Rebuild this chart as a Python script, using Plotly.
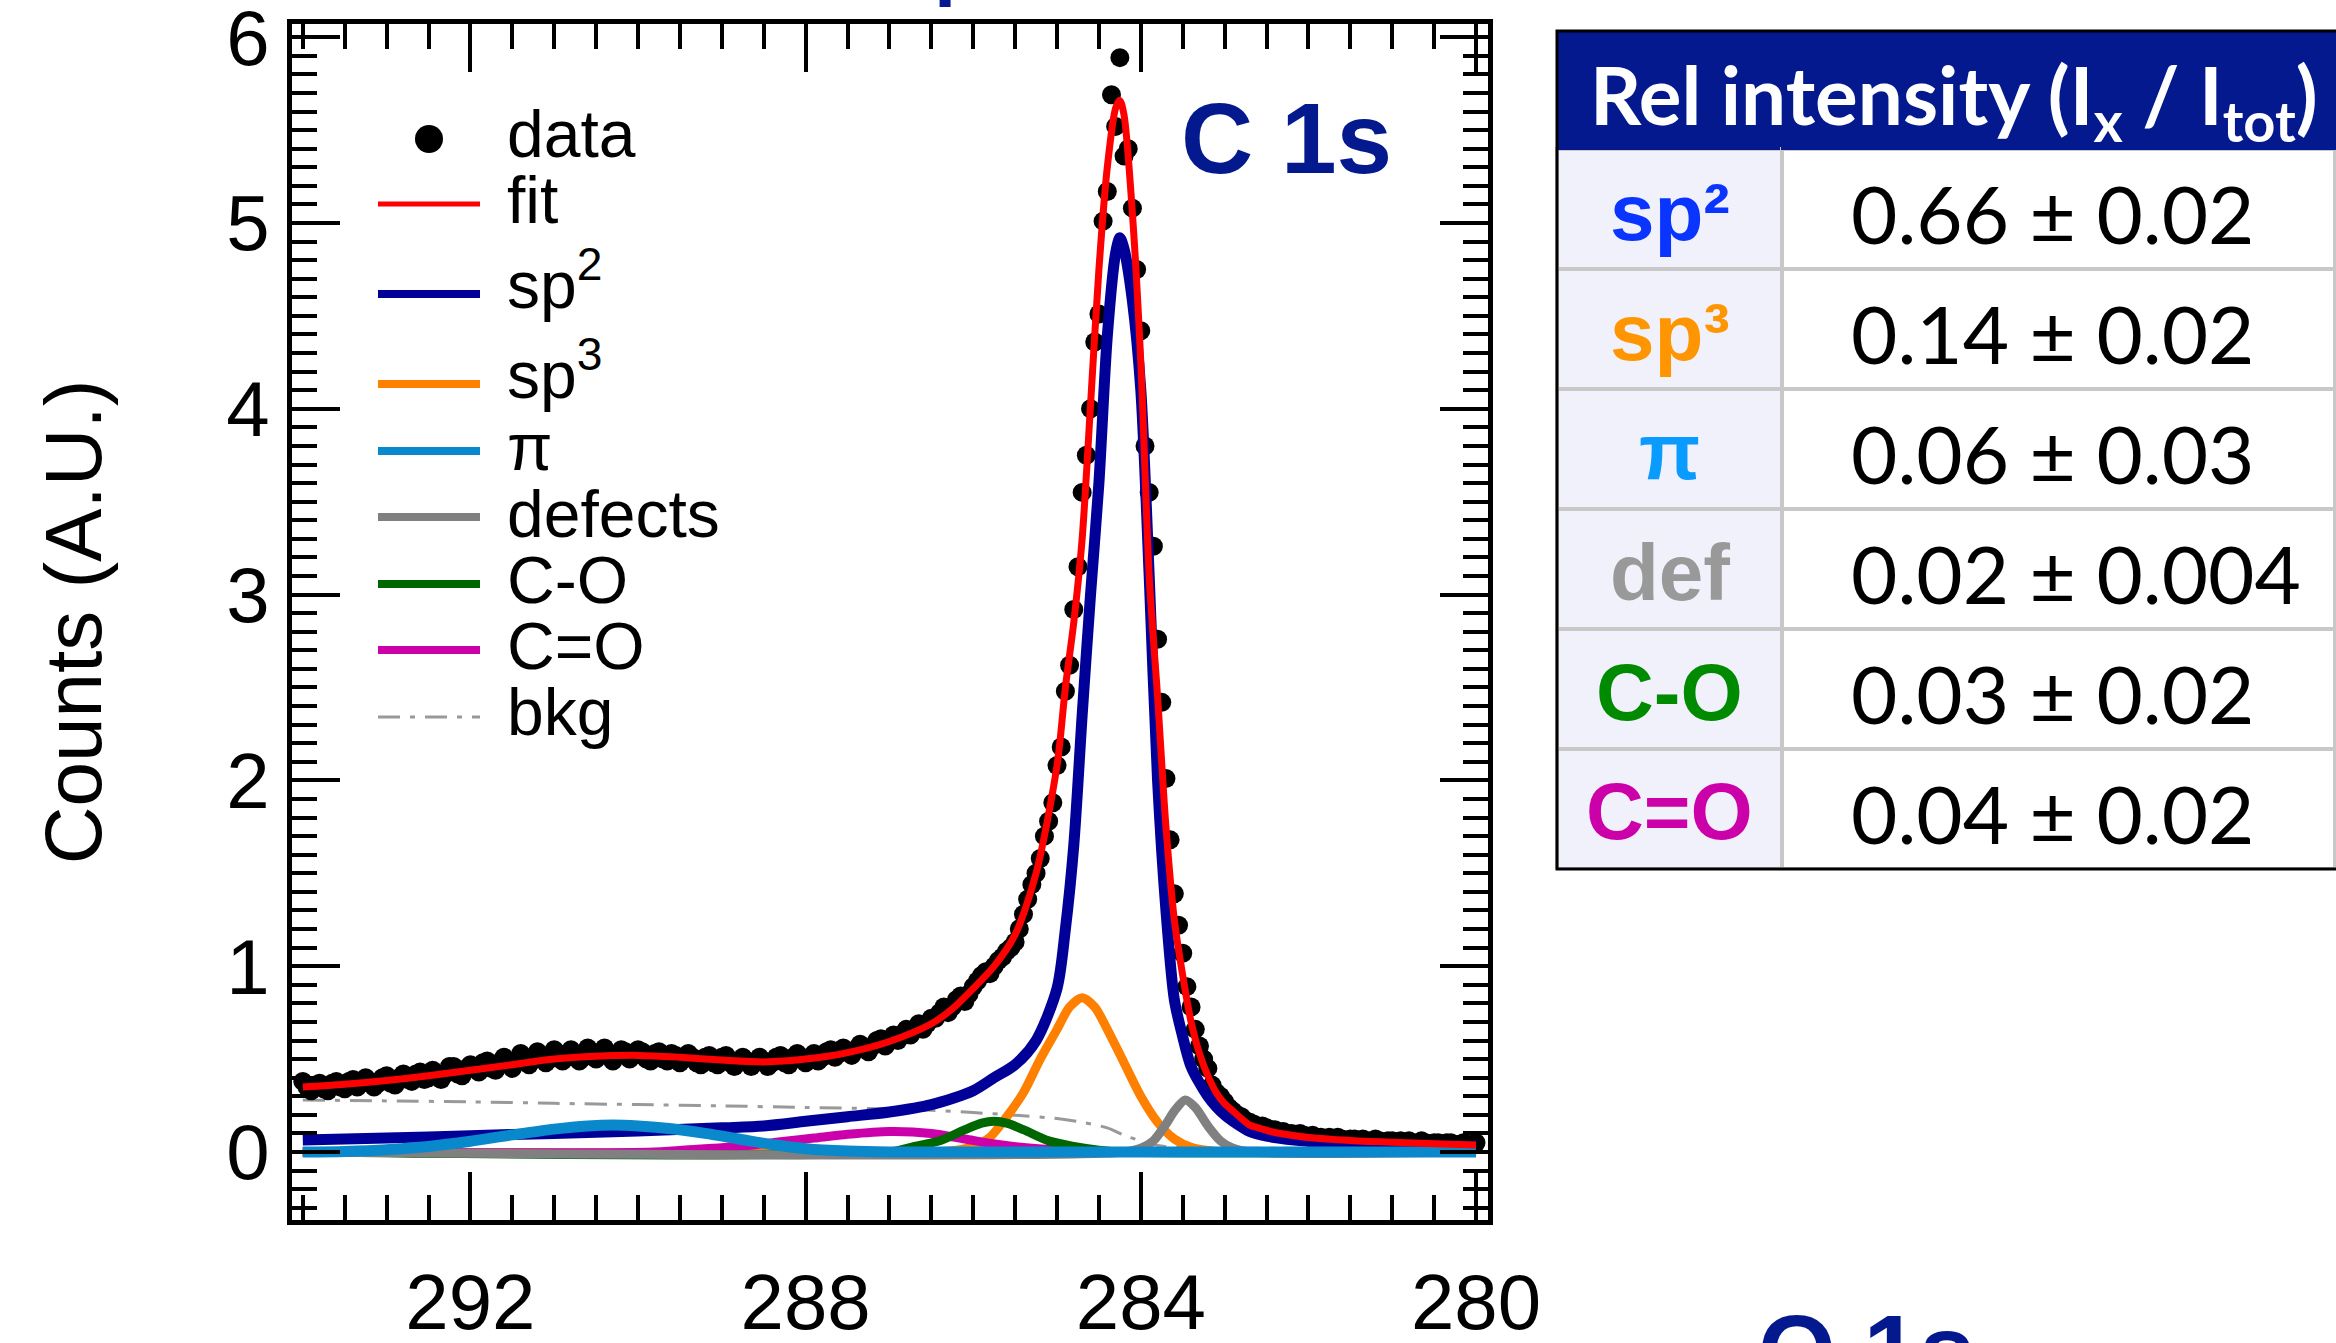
import plotly.graph_objects as go

W, H = 2336, 1343

# ---------------- data ----------------
energy = [
    294.00, 293.95, 293.90, 293.85, 293.80, 293.75, 293.70, 293.65, 293.60, 293.55,
    293.50, 293.45, 293.40, 293.35, 293.30, 293.25, 293.20, 293.15, 293.10, 293.05,
    293.00, 292.95, 292.90, 292.85, 292.80, 292.75, 292.70, 292.65, 292.60, 292.55,
    292.50, 292.45, 292.40, 292.35, 292.30, 292.25, 292.20, 292.15, 292.10, 292.05,
    292.00, 291.95, 291.90, 291.85, 291.80, 291.75, 291.70, 291.65, 291.60, 291.55,
    291.50, 291.45, 291.40, 291.35, 291.30, 291.25, 291.20, 291.15, 291.10, 291.05,
    291.00, 290.95, 290.90, 290.85, 290.80, 290.75, 290.70, 290.65, 290.60, 290.55,
    290.50, 290.45, 290.40, 290.35, 290.30, 290.25, 290.20, 290.15, 290.10, 290.05,
    290.00, 289.95, 289.90, 289.85, 289.80, 289.75, 289.70, 289.65, 289.60, 289.55,
    289.50, 289.45, 289.40, 289.35, 289.30, 289.25, 289.20, 289.15, 289.10, 289.05,
    289.00, 288.95, 288.90, 288.85, 288.80, 288.75, 288.70, 288.65, 288.60, 288.55,
    288.50, 288.45, 288.40, 288.35, 288.30, 288.25, 288.20, 288.15, 288.10, 288.05,
    288.00, 287.95, 287.90, 287.85, 287.80, 287.75, 287.70, 287.65, 287.60, 287.55,
    287.50, 287.45, 287.40, 287.35, 287.30, 287.25, 287.20, 287.15, 287.10, 287.05,
    287.00, 286.95, 286.90, 286.85, 286.80, 286.75, 286.70, 286.65, 286.60, 286.55,
    286.50, 286.45, 286.40, 286.35, 286.30, 286.25, 286.20, 286.15, 286.10, 286.05,
    286.00, 285.95, 285.90, 285.85, 285.80, 285.75, 285.70, 285.65, 285.60, 285.55,
    285.50, 285.45, 285.40, 285.35, 285.30, 285.25, 285.20, 285.15, 285.10, 285.05,
    285.00, 284.95, 284.90, 284.85, 284.80, 284.75, 284.70, 284.65, 284.60, 284.55,
    284.50, 284.45, 284.40, 284.35, 284.30, 284.25, 284.20, 284.15, 284.10, 284.05,
    284.00, 283.95, 283.90, 283.85, 283.80, 283.75, 283.70, 283.65, 283.60, 283.55,
    283.50, 283.45, 283.40, 283.35, 283.30, 283.25, 283.20, 283.15, 283.10, 283.05,
    283.00, 282.95, 282.90, 282.85, 282.80, 282.75, 282.70, 282.65, 282.60, 282.55,
    282.50, 282.45, 282.40, 282.35, 282.30, 282.25, 282.20, 282.15, 282.10, 282.05,
    282.00, 281.95, 281.90, 281.85, 281.80, 281.75, 281.70, 281.65, 281.60, 281.55,
    281.50, 281.45, 281.40, 281.35, 281.30, 281.25, 281.20, 281.15, 281.10, 281.05,
    281.00, 280.95, 280.90, 280.85, 280.80, 280.75, 280.70, 280.65, 280.60, 280.55,
    280.50, 280.45, 280.40, 280.35, 280.30, 280.25, 280.20, 280.15, 280.10, 280.05,
    280.00,
]
counts = [
    0.38, 0.35, 0.33, 0.36, 0.37, 0.34, 0.33, 0.37, 0.38, 0.35,
    0.34, 0.38, 0.39, 0.35, 0.37, 0.40, 0.38, 0.35, 0.37, 0.40,
    0.41, 0.37, 0.36, 0.40, 0.42, 0.39, 0.38, 0.42, 0.43, 0.39,
    0.40, 0.44, 0.42, 0.39, 0.42, 0.46, 0.46, 0.42, 0.41, 0.45,
    0.47, 0.45, 0.43, 0.48, 0.49, 0.45, 0.44, 0.48, 0.51, 0.48,
    0.45, 0.48, 0.53, 0.51, 0.47, 0.50, 0.54, 0.52, 0.48, 0.50,
    0.55, 0.53, 0.49, 0.51, 0.55, 0.52, 0.49, 0.51, 0.56, 0.54,
    0.50, 0.52, 0.56, 0.52, 0.49, 0.52, 0.55, 0.54, 0.50, 0.52,
    0.55, 0.54, 0.50, 0.49, 0.53, 0.54, 0.50, 0.49, 0.53, 0.52,
    0.48, 0.50, 0.53, 0.51, 0.48, 0.47, 0.51, 0.52, 0.48, 0.47,
    0.51, 0.52, 0.48, 0.46, 0.48, 0.51, 0.49, 0.46, 0.48, 0.51,
    0.49, 0.46, 0.48, 0.51, 0.52, 0.48, 0.47, 0.51, 0.53, 0.51,
    0.48, 0.51, 0.53, 0.49, 0.51, 0.54, 0.55, 0.51, 0.53, 0.56,
    0.54, 0.52, 0.55, 0.58, 0.56, 0.54, 0.57, 0.60, 0.61, 0.57,
    0.60, 0.63, 0.60, 0.63, 0.66, 0.63, 0.66, 0.69, 0.66, 0.69,
    0.72, 0.72, 0.75, 0.78, 0.75, 0.78, 0.82, 0.84, 0.81, 0.85,
    0.89, 0.92, 0.95, 0.97, 0.96, 1.00, 1.03, 1.05, 1.08, 1.10,
    1.13, 1.20, 1.28, 1.36, 1.44, 1.50, 1.58, 1.70, 1.78, 1.88,
    2.08, 2.18, 2.48, 2.62, 2.92, 3.15, 3.55, 3.75, 4.00, 4.36,
    4.51, 5.01, 5.17, 5.69, 5.52, 5.89, 5.36, 5.40, 5.08, 4.75,
    4.42, 3.80, 3.55, 3.26, 2.76, 2.42, 2.01, 1.68, 1.39, 1.22,
    1.07, 0.89, 0.78, 0.66, 0.57, 0.50, 0.45, 0.36, 0.32, 0.30,
    0.27, 0.24, 0.22, 0.20, 0.19, 0.17, 0.16, 0.15, 0.14, 0.14,
    0.13, 0.12, 0.12, 0.11, 0.11, 0.10, 0.10, 0.09, 0.10, 0.09,
    0.08, 0.09, 0.08, 0.08, 0.07, 0.08, 0.07, 0.08, 0.07, 0.06,
    0.07, 0.07, 0.06, 0.07, 0.06, 0.06, 0.07, 0.06, 0.05, 0.06,
    0.06, 0.05, 0.06, 0.05, 0.06, 0.05, 0.05, 0.06, 0.05, 0.04,
    0.05, 0.05, 0.04, 0.05, 0.05, 0.04, 0.04, 0.05, 0.04, 0.04,
    0.05,
]

fit_energy = [294.0, 293.5, 293.0, 292.5, 292.0, 291.5, 291.0, 290.5, 290.0, 289.5,
              289.0, 288.5, 288.0, 287.5, 287.0, 286.5, 286.25, 286.0, 285.75, 285.5,
              285.25, 285.0, 284.9, 284.8, 284.7, 284.6, 284.5, 284.4, 284.3, 284.25,
              284.2, 284.1, 284.0, 283.9, 283.8, 283.7, 283.6, 283.5, 283.4, 283.3,
              283.2, 283.1, 283.0, 282.9, 282.8, 282.7, 282.6, 282.4, 282.2, 282.0,
              281.5, 281.0, 280.5, 280.0]
fit_counts = [0.35, 0.365, 0.385, 0.41, 0.44, 0.47, 0.50, 0.515, 0.52, 0.51,
              0.495, 0.485, 0.50, 0.535, 0.595, 0.69, 0.77, 0.88, 1.00, 1.17,
              1.50, 2.08, 2.50, 2.85, 3.30, 4.02, 4.75, 5.30, 5.62, 5.66,
              5.58, 5.05, 4.25, 3.10, 2.45, 1.75, 1.25, 0.95, 0.70, 0.53,
              0.41, 0.32, 0.26, 0.22, 0.18, 0.145, 0.13, 0.105, 0.09, 0.078,
              0.062, 0.052, 0.045, 0.038]

sp2_energy = [294.0, 293.0, 292.0, 291.0, 290.0, 289.0, 288.5, 288.0, 287.5, 287.0,
              286.5, 286.0, 285.75, 285.5, 285.25, 285.0, 284.9, 284.8, 284.7, 284.6,
              284.5, 284.4, 284.3, 284.25, 284.2, 284.1, 284.0, 283.9, 283.8, 283.7,
              283.6, 283.5, 283.4, 283.2, 283.0, 282.7, 282.5, 282.0, 281.5, 281.0,
              280.5, 280.0]
sp2_counts = [0.065, 0.075, 0.088, 0.10, 0.113, 0.13, 0.14, 0.165, 0.19, 0.215,
              0.255, 0.33, 0.40, 0.47, 0.60, 0.88, 1.20, 1.65, 2.35, 3.00,
              3.60, 4.39, 4.84, 4.92, 4.86, 4.58, 4.10, 3.10, 2.00, 1.30,
              0.82, 0.62, 0.46, 0.30, 0.20, 0.11, 0.085, 0.058, 0.047, 0.04,
              0.034, 0.03]

sp3_energy = [294.0, 286.5, 286.2, 286.0, 285.8, 285.6, 285.4, 285.2, 285.0, 284.85,
              284.7, 284.55, 284.4, 284.2, 284.0, 283.8, 283.6, 283.4, 283.2, 283.0, 280.0]
sp3_counts = [0.0, 0.0, 0.01, 0.03, 0.08, 0.19, 0.32, 0.50, 0.66, 0.78,
              0.83, 0.78, 0.66, 0.48, 0.30, 0.16, 0.07, 0.025, 0.008, 0.0, 0.0]

pi_energy = [294.0, 293.5, 293.0, 292.5, 292.0, 291.5, 291.0, 290.6, 290.3, 290.0,
             289.6, 289.2, 288.8, 288.4, 288.0, 287.5, 287.0, 280.0]
pi_counts = [0.0, 0.003, 0.012, 0.03, 0.058, 0.092, 0.123, 0.14, 0.145, 0.14,
             0.125, 0.10, 0.07, 0.04, 0.018, 0.005, 0.0, 0.0]

def_energy = [294.0, 284.2, 284.0, 283.85, 283.7, 283.6, 283.47, 283.35, 283.2, 283.05,
              282.9, 282.7, 280.0]
def_counts = [0.0, 0.0, 0.02, 0.06, 0.15, 0.22, 0.28, 0.24, 0.14, 0.06,
              0.02, 0.0, 0.0]

co_energy = [294.0, 287.0, 286.7, 286.4, 286.1, 285.9, 285.75, 285.6, 285.4, 285.1,
             284.8, 284.5, 284.2, 280.0]
co_counts = [0.0, 0.0, 0.03, 0.06, 0.12, 0.155, 0.165, 0.155, 0.12, 0.06,
             0.03, 0.01, 0.0, 0.0]

cdo_energy = [294.0, 289.8, 289.3, 288.8, 288.3, 287.9, 287.5, 287.0, 286.5, 286.1,
              285.7, 285.3, 284.8, 284.4, 280.0]
cdo_counts = [0.0, 0.0, 0.015, 0.03, 0.055, 0.075, 0.095, 0.11, 0.10, 0.07,
              0.04, 0.02, 0.005, 0.0, 0.0]

bkg_energy = [294.0, 293.0, 292.0, 291.0, 290.0, 289.0, 288.0, 287.0, 286.5, 286.0,
              285.5, 285.0, 284.7, 284.4, 284.2, 284.0, 283.8, 283.6, 283.0, 282.0, 280.0]
bkg_counts = [0.28, 0.275, 0.27, 0.262, 0.255, 0.248, 0.24, 0.232, 0.225, 0.212,
              0.198, 0.18, 0.16, 0.13, 0.09, 0.06, 0.035, 0.025, 0.02, 0.02, 0.02]

x_ticks = [292, 288, 284, 280]
y_ticks = [0, 1, 2, 3, 4, 5, 6]

legend_labels = ["data", "fit", "sp<sup>2</sup>", "sp<sup>3</sup>", "π", "defects",
                 "C-O", "C=O", "bkg"]

table_title = "Rel intensity (I<sub>x</sub> / I<sub>tot</sub>)"
table_labels = ["sp²", "sp³", "π", "def", "C-O", "C=O"]
rel_intensity = ["0.66", "0.14", "0.06", "0.02", "0.03", "0.04"]
rel_error = ["0.02", "0.02", "0.03", "0.004", "0.02", "0.02"]

# ---------------- styles ----------------
NAVY = "#03198d"
FIT_C = "#ff0000"
SP2_C = "#000099"
SP3_C = "#ff8000"
PI_C = "#0a88cc"
DEF_C = "#808080"
CO_C = "#006600"
CDO_C = "#cc00aa"
BKG_C = "#999999"
table_label_colors = ["#0a34ff", "#ff9500", "#0a9bff", "#999999", "#008a00", "#cc00a8"]
BKG_DASH = "22px,10px,5px,10px"

FONT = "Liberation Sans, Arial, Helvetica, sans-serif"
TFONT = "Lato, Liberation Sans, sans-serif"


def px(x):
    return x / W


def py(y):
    return 1 - y / H


fig = go.Figure()

SPL = dict(shape="spline", smoothing=0.8)

fig.add_trace(go.Scatter(x=bkg_energy, y=bkg_counts, mode="lines",
                         line=dict(color=BKG_C, width=3, dash=BKG_DASH, **SPL),
                         name="bkg", showlegend=False))
fig.add_trace(go.Scatter(x=energy, y=counts, mode="markers",
                         marker=dict(color="black", size=19), name="data",
                         showlegend=False))
for xs, ys, col, wd, nm in [
    (sp2_energy, sp2_counts, SP2_C, 11, "sp2"),
    (sp3_energy, sp3_counts, SP3_C, 9, "sp3"),
    (cdo_energy, cdo_counts, CDO_C, 9, "C=O"),
    (co_energy, co_counts, CO_C, 9, "C-O"),
    (def_energy, def_counts, DEF_C, 9, "defects"),
    (pi_energy, pi_counts, PI_C, 11, "pi"),
]:
    fig.add_trace(go.Scatter(x=xs, y=ys, mode="lines", line=dict(color=col, width=wd, **SPL),
                             name=nm, showlegend=False))
fig.add_trace(go.Scatter(x=fit_energy, y=fit_counts, mode="lines",
                         line=dict(color=FIT_C, width=7, **SPL), name="fit", showlegend=False))

# ---------------- table (grid by go.Table, text placed centred in rows) ----------------
T_LEFT, T_TOP, HEAD_H, ROW_H, COL1_W = 1557, 31, 118, 120, 225
n_rows = len(table_labels)
T_BOTTOM = T_TOP + HEAD_H + n_rows * ROW_H
fig.add_trace(go.Table(
    domain=dict(x=[px(T_LEFT), 1.0], y=[py(T_BOTTOM), py(T_TOP)]),
    columnwidth=[COL1_W, W - T_LEFT - COL1_W],
    header=dict(values=["", ""], fill_color=NAVY, line=dict(color=NAVY, width=1), height=HEAD_H),
    cells=dict(
        values=[[""] * n_rows, [""] * n_rows],
        fill_color=[["#f1f1fb"] * n_rows, ["white"] * n_rows],
        line=dict(color="#c8c8c8", width=4),
        height=ROW_H,
    ),
))

shapes = [dict(type="rect", xref="paper", yref="paper", x0=px(T_LEFT), x1=px(W + 10),
               y0=py(T_BOTTOM), y1=py(T_TOP), line=dict(color="black", width=3))]
annotations = [
    dict(text="<b>" + table_title + "</b>", xref="paper", yref="paper",
         x=px(1954), y=py(T_TOP + HEAD_H / 2 + 10), xanchor="center", yanchor="middle",
         showarrow=False, font=dict(family=TFONT, size=80, color="white")),
    dict(text="<b>C 1s</b>", xref="paper", yref="paper", x=px(1286), y=py(138),
         xanchor="center", yanchor="middle", showarrow=False,
         font=dict(family=FONT, size=100, color=NAVY)),
    dict(text="<b>O 1s</b>", xref="paper", yref="paper", x=px(1756), y=py(1292),
         xanchor="left", yanchor="top", showarrow=False,
         font=dict(family=FONT, size=100, color=NAVY)),
    dict(text="<b>p</b>", xref="paper", yref="paper", x=px(932), y=py(9),
         xanchor="left", yanchor="bottom", showarrow=False,
         font=dict(family=FONT, size=80, color=NAVY)),
]
for i, (lab, col, v, e) in enumerate(zip(table_labels, table_label_colors, rel_intensity, rel_error)):
    yc = T_TOP + HEAD_H + (i + 0.5) * ROW_H
    annotations.append(dict(text="<b>" + lab + "</b>", xref="paper", yref="paper",
                            x=px(T_LEFT + COL1_W / 2), y=py(yc + 3), xanchor="center",
                            yanchor="middle", showarrow=False,
                            font=dict(family=FONT, size=80, color=col)))
    annotations.append(dict(text=v + " \u00b1 " + e, xref="paper", yref="paper",
                            x=px(1849), y=py(yc + 4), xanchor="left", yanchor="middle",
                            showarrow=False, font=dict(family=TFONT, size=80, color="black")))

# ---------------- manual legend ----------------
legend_styles = [
    dict(kind="marker", color="black"),
    dict(kind="line", color=FIT_C, width=5),
    dict(kind="line", color=SP2_C, width=8),
    dict(kind="line", color=SP3_C, width=8),
    dict(kind="line", color=PI_C, width=8),
    dict(kind="line", color=DEF_C, width=8),
    dict(kind="line", color=CO_C, width=8),
    dict(kind="line", color=CDO_C, width=8),
    dict(kind="line", color=BKG_C, width=3, dash=BKG_DASH),
]
legend_symbol_y = [139, 204, 294, 384, 451, 517, 584, 650, 717]
legend_text_y = [134, 200, 280, 370, 447, 514, 580, 646, 712]
for lab, st, ys, yt in zip(legend_labels, legend_styles, legend_symbol_y, legend_text_y):
    if st["kind"] == "marker":
        shapes.append(dict(type="circle", xref="paper", yref="paper",
                           x0=px(429 - 14), x1=px(429 + 14), y0=py(ys + 14), y1=py(ys - 14),
                           fillcolor="black", line=dict(width=0)))
    else:
        shapes.append(dict(type="line", xref="paper", yref="paper",
                           x0=px(378), x1=px(480), y0=py(ys), y1=py(ys),
                           line=dict(color=st["color"], width=st["width"],
                                     dash=st.get("dash", "solid"))))
    annotations.append(dict(text=lab, xref="paper", yref="paper", x=px(505), y=py(yt),
                            xanchor="left", yanchor="middle", showarrow=False,
                            font=dict(family=FONT, size=66, color="black")))

AX_LINE = dict(showline=True, linewidth=4.5, linecolor="black", mirror="ticks",
               showgrid=False, zeroline=False, ticks="inside", tickwidth=4,
               tickcolor="black")
fig.update_layout(
    width=W, height=H, autosize=False,
    margin=dict(l=0, r=0, t=0, b=0, pad=0, autoexpand=False),
    paper_bgcolor="white", plot_bgcolor="white",
    font=dict(family=FONT, color="black"),
    showlegend=False,
    xaxis=dict(domain=[px(292), px(1488)], range=[294.129, 279.857], tickmode="array",
               tickvals=x_ticks, ticktext=[str(t) for t in x_ticks], ticklen=48,
               tickfont=dict(size=78), ticklabelstandoff=11, ticklabeloverflow="allow",
               minor=dict(dtick=0.5, tick0=280, ticks="inside", ticklen=25, tickwidth=4,
                          tickcolor="black", showgrid=False),
               anchor="y", **AX_LINE),
    yaxis=dict(domain=[py(1220), py(24)], range=[-0.366, 6.071], tickmode="array",
               tickvals=y_ticks, ticktext=[str(t) for t in y_ticks], ticklen=48,
               tickfont=dict(size=78), ticklabelstandoff=2, ticklabeloverflow="allow",
               minor=dict(dtick=0.1, tick0=0, ticks="inside", ticklen=25, tickwidth=4,
                          tickcolor="black", showgrid=False),
               title=dict(text="Counts (A.U.)", font=dict(size=80), standoff=100),
               anchor="x", **AX_LINE),
    yaxis2=dict(domain=[py(1220), py(24)], range=[-0.366, 6.071], overlaying="y", anchor="x",
                side="left", dtick=0.5, tick0=0, ticklen=37, showticklabels=False,
                **AX_LINE),
    shapes=shapes,
    annotations=annotations,
)

fig.write_html("out.html", config={"responsive": False})
